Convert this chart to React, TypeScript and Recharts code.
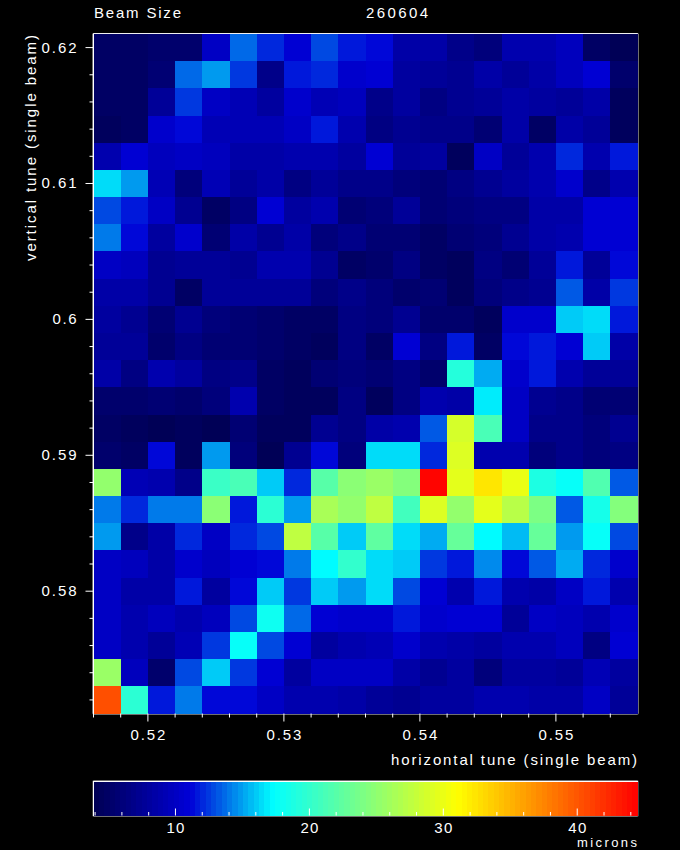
import { Scatter, ScatterChart, XAxis, YAxis, ReferenceArea } from "recharts";

const xCenters = [
	0.517, 0.519, 0.521, 0.523, 0.525, 0.527, 0.529, 0.531, 0.533, 0.535, 0.537,
	0.539, 0.541, 0.543, 0.545, 0.547, 0.549, 0.551, 0.553, 0.555,
];
const yCenters = [
	0.62, 0.618, 0.616, 0.614, 0.612, 0.61, 0.608, 0.606, 0.604, 0.602, 0.6,
	0.598, 0.596, 0.594, 0.592, 0.59, 0.588, 0.586, 0.584, 0.582, 0.58, 0.578,
	0.576, 0.574, 0.572,
];

// beam size in microns, top row first
const beamSize = [
	[4.9, 4.9, 5.4, 5.4, 10, 13.8, 12.1, 10.8, 12.8, 11.5, 11.2, 8.5, 8.5, 7, 6.2, 9, 9, 9.8, 5, 4],
	[4.7, 4.7, 5.5, 13.8, 15, 12.3, 7, 11.5, 12, 10.6, 10.8, 8, 7.7, 7.3, 8.5, 7.8, 8.5, 9.7, 10.7, 5.4],
	[4.7, 4.7, 7.5, 12.3, 10, 9.3, 8, 10.4, 9.2, 9.8, 7, 8, 6.6, 7.2, 7.8, 8.3, 8, 7.7, 8.4, 4.4],
	[4.6, 4.8, 10.5, 11.2, 9.2, 9.4, 9.2, 10, 11.8, 9, 6.5, 7.2, 6.7, 6.7, 5.5, 8.4, 5, 8.5, 7.6, 4.6],
	[9, 11, 9.6, 10, 9.6, 8.6, 8.4, 9, 8.8, 8, 10.7, 7.8, 8, 4.4, 10, 7.5, 8.7, 12.2, 8.8, 11.7],
	[16.4, 14.7, 9.2, 6, 9.3, 7.8, 8.6, 6.6, 7.6, 7, 7, 6, 5.5, 6.5, 7.3, 8, 8.7, 10.6, 6.8, 8.7],
	[12.7, 11.7, 10, 7.2, 5, 6.3, 10.8, 8.2, 9, 5.8, 6, 7.5, 5.6, 5.9, 6.3, 6.6, 8.5, 8.6, 10.8, 10.8],
	[13.9, 11.3, 8, 10.5, 5.6, 8.4, 7.4, 8.4, 6, 7, 5.5, 5.8, 4.9, 5.7, 6.2, 7.2, 8.4, 9, 10.8, 10.8],
	[10, 9.6, 7.2, 7.6, 7.8, 7.2, 8.9, 8.9, 7.2, 4.7, 5.4, 6.3, 4.7, 4.4, 6.3, 5.6, 7.6, 11.7, 7.5, 11.3],
	[8.6, 8.4, 7.2, 5, 7.6, 7.6, 7.5, 7.5, 6, 6.8, 6.2, 5.2, 5.5, 4.4, 6.2, 6.7, 7.3, 13.4, 8.4, 12.6],
	[8, 7.2, 5.6, 7.2, 6, 5.6, 5.4, 5, 5, 6.6, 6.2, 7.4, 5.2, 5.2, 4.5, 10.5, 10.5, 16, 16.6, 11.5],
	[7.8, 7.8, 5.4, 6.3, 5.7, 5.7, 5.3, 5, 4.5, 6.3, 5, 10.8, 6.4, 11.5, 4.8, 11.2, 11.5, 11, 16.2, 8.6],
	[8.4, 6.5, 8.8, 8, 6.4, 7, 4.9, 4.5, 5.5, 5.9, 5.5, 6.4, 5.4, 19.2, 15.2, 10.5, 11.5, 8.8, 7.6, 7.6],
	[5.4, 5.2, 5.6, 5.4, 5.9, 9, 4.8, 4.6, 4.6, 6.3, 4.6, 6.6, 8.8, 8.4, 17, 10.2, 7.2, 7, 5.6, 5.6],
	[5, 4.6, 4.2, 4.6, 4, 5.8, 4.6, 4.6, 7.2, 6.6, 8.4, 8.8, 13.4, 28.6, 21.3, 10, 7, 6.8, 6, 7.2],
	[5.4, 4.9, 11.2, 4.5, 15, 6, 4, 7.2, 11.4, 6.2, 16.4, 16.4, 12.1, 29, 8.8, 8.8, 6, 7, 6, 6.5],
	[25.3, 9.2, 8.8, 7, 20.6, 21.2, 16, 12, 22, 24.7, 25.4, 24.5, 44.5, 29.5, 32.5, 29.9, 19, 17.7, 21.6, 13.4],
	[14, 12, 14, 13.9, 24.8, 11.6, 19.6, 14.8, 26.4, 25.3, 27.5, 20.8, 29, 25, 29.7, 27, 23.8, 13.4, 18.6, 24.3],
	[14.8, 7, 8.6, 12, 10, 12, 12.7, 27.5, 22, 16, 22.3, 16.5, 15.2, 22.8, 17.2, 15.5, 22.8, 14.8, 17.7, 12.7],
	[10.2, 9.6, 8.3, 10.5, 9.6, 11, 11.4, 14, 17.4, 20, 16.6, 16, 12.3, 11.5, 14.4, 11.2, 13.2, 15.2, 12, 10.5],
	[10.2, 8.5, 8.5, 11.5, 8, 11.2, 15.9, 12.4, 15.9, 14.8, 16.6, 12.8, 10.8, 8.8, 11.6, 8.8, 8.4, 10.2, 11.8, 9],
	[10.2, 9, 9.6, 9, 9.8, 13, 18, 13.8, 11, 10.6, 10.5, 11.8, 10.6, 10.8, 11, 7.6, 10.2, 9.5, 9, 10.5],
	[10.2, 9, 7.6, 9.2, 12.3, 17.7, 12.8, 10.7, 8.2, 9, 9.4, 10.4, 8.8, 8.6, 8, 8.8, 8.8, 9.5, 6.4, 11],
	[25.4, 9.6, 5.4, 12.8, 16, 12.5, 10.8, 8, 10, 10, 10, 8.6, 7.4, 8, 6, 8.2, 8.2, 7.6, 9.4, 8],
	[40.2, 19.7, 11.8, 14.2, 11.2, 11.2, 10.2, 9, 9, 8.6, 7.5, 7.4, 8.2, 8.2, 9, 9, 8.5, 8.6, 10.2, 7.8],
];

const xTicks = [
	0.516, 0.518, 0.52, 0.522, 0.524, 0.526, 0.528, 0.53, 0.532, 0.534, 0.536,
	0.538, 0.54, 0.542, 0.544, 0.546, 0.548, 0.55, 0.552, 0.554,
];
const xMajor = [0.52, 0.53, 0.54, 0.55];
const yTicks = [
	0.572, 0.574, 0.576, 0.578, 0.58, 0.582, 0.584, 0.586, 0.588, 0.59, 0.592,
	0.594, 0.596, 0.598, 0.6, 0.602, 0.604, 0.606, 0.608, 0.61, 0.612, 0.614,
	0.616, 0.618, 0.62,
];
const yMajor = [0.58, 0.59, 0.6, 0.61, 0.62];
const barTicks = [
	4, 6, 8, 10, 12, 14, 16, 18, 20, 22, 24, 26, 28, 30, 32, 34, 36, 38, 40, 42, 44,
];
const barMajor = [10, 20, 30, 40];

const V_MIN = 3.88;
const V_MAX = 44.5;
const LEVELS = 102;

// colour table stops: position in range, r, g, b
const stops = [
	[0, 0, 0, 82],
	[0.177, 0, 0, 215],
	[0.33, 0, 255, 255],
	[0.5, 128, 255, 128],
	[0.668, 255, 255, 0],
	[1, 255, 0, 0],
];

function colorFor(v: number) {
	const level = Math.min(
		LEVELS - 1,
		Math.max(0, Math.floor(((v - V_MIN) / (V_MAX - V_MIN)) * LEVELS)),
	);
	const t = (level + 0.5) / LEVELS;
	let i = 0;
	while (i < stops.length - 2 && t > stops[i + 1][0]) i++;
	const a = stops[i];
	const b = stops[i + 1];
	const f = (t - a[0]) / (b[0] - a[0]);
	const mix = (k: number) => Math.round(a[k] + (b[k] - a[k]) * f);
	return `rgb(${mix(1)},${mix(2)},${mix(3)})`;
}

const near = (list: number[], v: number) =>
	list.some((m) => Math.abs(m - v) < 1e-6);

const LEFT = 93.5;
const RIGHT = 637.5;
const TOP = 34;
const BOTTOM = 713.5;
const CELL_W = (RIGHT - LEFT) / xCenters.length;
const CELL_H = (BOTTOM - TOP) / yCenters.length;
const BAR_TOP = 781.5;
const BAR_BOTTOM = 815.5;

const cells = beamSize.flatMap((row, r) =>
	row.map((v, c) => ({ x: xCenters[c], y: yCenters[r], v })),
);

const barLevels = Array.from({ length: LEVELS }, (_, i) => ({
	x: V_MIN + ((i + 0.5) / LEVELS) * (V_MAX - V_MIN),
	y: 0.5,
}));

const label = {
	fill: "#fff",
	fontFamily: "'Liberation Sans', sans-serif",
	fontSize: 15,
};

function CellRect(props: any) {
	return (
		<rect
			x={props.cx - CELL_W / 2}
			y={props.cy - CELL_H / 2}
			width={CELL_W}
			height={CELL_H}
			fill={colorFor(props.payload.v)}
			shapeRendering="crispEdges"
		/>
	);
}

function BarRect(props: any) {
	const w = (RIGHT - LEFT) / LEVELS;
	return (
		<rect
			x={props.cx - w / 2}
			y={BAR_TOP}
			width={w}
			height={BAR_BOTTOM - BAR_TOP}
			fill={colorFor(props.payload.x)}
			shapeRendering="crispEdges"
		/>
	);
}

function tickX(side: number, showLabel: boolean) {
	return (props: any) => {
		const { x, y, payload } = props;
		const major = near(xMajor, payload.value);
		return (
			<g>
				<line x1={x} x2={x} y1={y} y2={y + side * (major ? 8 : 4)} stroke="#fff" />
				{showLabel && major && (
					<text x={x} y={y + 26} textAnchor="middle" textLength={35} {...label}>
						{payload.value.toFixed(2)}
					</text>
				)}
			</g>
		);
	};
}

function tickY(side: number, showLabel: boolean) {
	return (props: any) => {
		const { x, y, payload } = props;
		const major = near(yMajor, payload.value);
		const text = String(payload.value);
		return (
			<g>
				<line x1={x} x2={x + side * (major ? 8 : 4)} y1={y} y2={y} stroke="#fff" />
				{showLabel && major && (
					<text
						x={x - 17}
						y={y + 5}
						textAnchor="end"
						textLength={text.length === 3 ? 24 : 35}
						{...label}
					>
						{text}
					</text>
				)}
			</g>
		);
	};
}

function barTick(side: number, showLabel: boolean) {
	return (props: any) => {
		const { x, y, payload } = props;
		const major = near(barMajor, payload.value);
		return (
			<g>
				<line x1={x} x2={x} y1={y} y2={y + side * (major ? 7 : 3.5)} stroke="#fff" />
				{showLabel && major && (
					<text x={x} y={y + 17} textAnchor="middle" textLength={18} {...label}>
						{payload.value}
					</text>
				)}
			</g>
		);
	};
}

export default function App() {
	// axes need 1px of room or they are not drawn at all
	const margin = {
		top: TOP - 1,
		left: LEFT - 1,
		right: 680 - RIGHT - 1,
		bottom: 850 - BOTTOM - 1,
	};
	const barMargin = {
		top: BAR_TOP - 1,
		left: LEFT,
		right: 680 - RIGHT,
		bottom: 850 - BAR_BOTTOM - 1,
	};
	const axisLine = { stroke: "#fff", strokeWidth: 1.5 };

	return (
		<div
			style={{
				position: "absolute",
				left: 0,
				top: 0,
				width: 680,
				height: 850,
				background: "#000",
				overflow: "hidden",
			}}
		>
			<div style={{ position: "absolute", left: 0, top: 0 }}>
				<ScatterChart width={680} height={850} margin={margin}>
					<XAxis
						xAxisId="b"
						type="number"
						dataKey="x"
						orientation="bottom"
						domain={[0.516, 0.556]}
						ticks={xTicks}
						interval={0}
						height={1}
						tickSize={0}
						tickMargin={0}
						axisLine={axisLine}
						tickLine={false}
						tick={tickX(1, true)}
					/>
					<XAxis
						xAxisId="t"
						type="number"
						orientation="top"
						domain={[0.516, 0.556]}
						ticks={xTicks}
						interval={0}
						height={1}
						tickSize={0}
						tickMargin={0}
						axisLine={axisLine}
						tickLine={false}
						tick={tickX(-1, false)}
					/>
					<YAxis
						yAxisId="l"
						type="number"
						dataKey="y"
						orientation="left"
						domain={[0.571, 0.621]}
						ticks={yTicks}
						interval={0}
						width={1}
						tickSize={0}
						tickMargin={0}
						axisLine={axisLine}
						tickLine={false}
						tick={tickY(-1, true)}
					/>
					<YAxis
						yAxisId="r"
						type="number"
						orientation="right"
						domain={[0.571, 0.621]}
						ticks={yTicks}
						interval={0}
						width={1}
						tickSize={0}
						tickMargin={0}
						axisLine={axisLine}
						tickLine={false}
						tick={tickY(1, false)}
					/>
					<Scatter
						xAxisId="b"
						yAxisId="l"
						data={cells}
						shape={CellRect}
						isAnimationActive={false}
					/>
					<ReferenceArea
						xAxisId="b"
						yAxisId="l"
						x1={0.516}
						x2={0.556}
						y1={0.571}
						y2={0.621}
						fill="none"
						stroke="#fff"
						strokeWidth={1.5}
						fillOpacity={0}
						ifOverflow="visible"
					/>
				</ScatterChart>
			</div>
			<div style={{ position: "absolute", left: 0, top: 0 }}>
				<ScatterChart width={680} height={850} margin={barMargin}>
					<XAxis
						xAxisId="b"
						type="number"
						dataKey="x"
						orientation="bottom"
						domain={[V_MIN, V_MAX]}
						ticks={barTicks}
						interval={0}
						height={1}
						tickSize={0}
						tickMargin={0}
						axisLine={axisLine}
						tickLine={false}
						tick={barTick(-1, true)}
					/>
					<XAxis
						xAxisId="t"
						type="number"
						orientation="top"
						domain={[V_MIN, V_MAX]}
						ticks={barTicks}
						interval={0}
						height={1}
						tickSize={0}
						tickMargin={0}
						axisLine={axisLine}
						tickLine={false}
						tick={barTick(1, false)}
					/>
					<YAxis yAxisId="l" type="number" dataKey="y" domain={[0, 1]} hide />
					<Scatter
						xAxisId="b"
						yAxisId="l"
						data={barLevels}
						shape={BarRect}
						isAnimationActive={false}
					/>
					<ReferenceArea
						xAxisId="b"
						yAxisId="l"
						x1={V_MIN}
						x2={V_MAX}
						y1={0}
						y2={1}
						fill="none"
						stroke="#fff"
						strokeWidth={1.5}
						fillOpacity={0}
						ifOverflow="visible"
					/>
				</ScatterChart>
			</div>
			<svg
				width={680}
				height={850}
				style={{ position: "absolute", left: 0, top: 0 }}
			>
				<text x={94} y={18} textLength={87} {...label}>
					Beam Size
				</text>
				<text x={366} y={18} textLength={62} {...label}>
					260604
				</text>
				<text x={391} y={765} textLength={246} {...label}>
					horizontal tune (single beam)
				</text>
				<text x={577} y={847} textLength={60} {...label} fontSize={13}>
					microns
				</text>
				<text
					transform="translate(36,261) rotate(-90)"
					textLength={226}
					{...label}
				>
					vertical tune (single beam)
				</text>
			</svg>
		</div>
	);
}
